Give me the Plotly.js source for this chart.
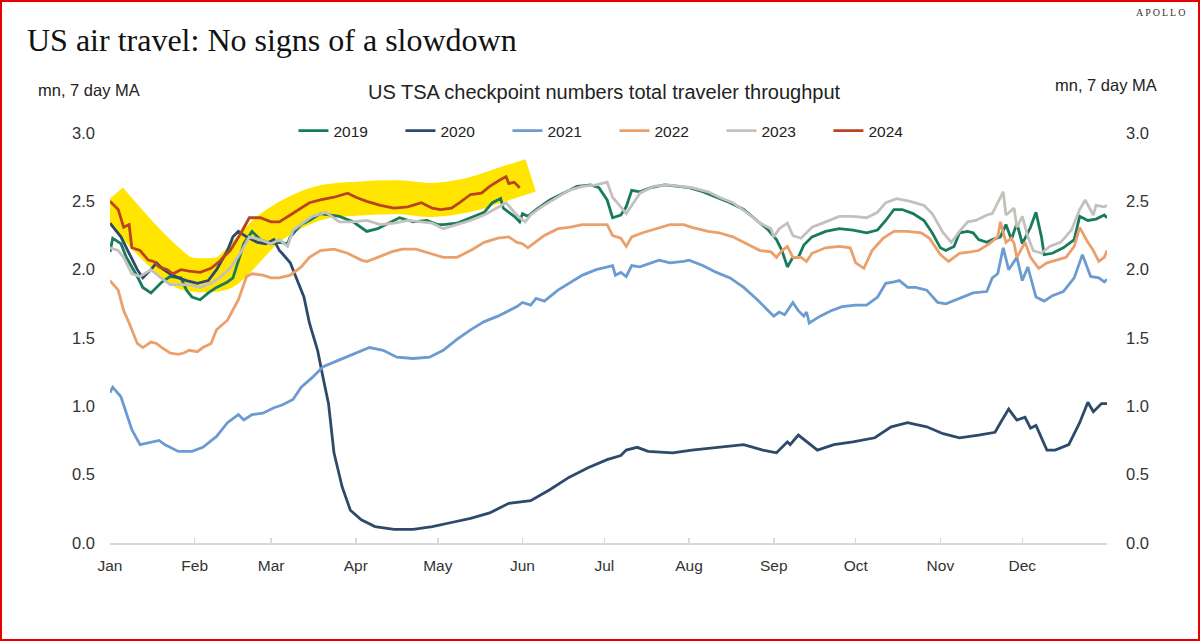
<!DOCTYPE html>
<html>
<head>
<meta charset="utf-8">
<script src="https://cdn.plot.ly/plotly-3.0.1.min.js"></script>
<style>
  html, body { margin: 0; padding: 0; background: #fff; }
  #wrap { position: relative; width: 1200px; height: 641px; }
  #chart { width: 1200px; height: 641px; }
  #frame { position: absolute; left: 0; top: 0; width: 1200px; height: 641px; box-sizing: border-box; border: 2px solid #e80000; pointer-events: none; }
</style>
</head>
<body>
<div id="wrap"><div id="chart"></div><div id="frame"></div></div>
<script>
// Day of year (0 = Jan 1) and values, mn travellers, 7 day MA
const monthTickDays = [0, 31, 59, 90, 120, 151, 181, 212, 243, 273, 304, 334, 365];
const monthTickLabels = ['Jan','Feb','Mar','Apr','May','Jun','Jul','Aug','Sep','Oct','Nov','Dec',''];
const yTicks = [0, 0.5, 1.0, 1.5, 2.0, 2.5, 3.0];

const days2019 = [0,1,4,6,10,12,15,17,19,22,26,28,30,33,36,39,43,45,47,49,52,55,59,62,65,66,70,73,77,81,84,89,94,98,101,106,111,116,120,122,127,132,137,140,143,144,146,148,150,151,153,156,161,166,171,176,179,182,184,187,189,191,194,198,203,208,212,217,222,227,232,237,241,244,246,248,250,252,254,257,262,267,272,277,281,284,287,290,294,298,301,304,306,309,311,314,316,318,321,323,326,328,330,332,334,337,339,341,342,345,349,353,355,358,361,364,365];
const vals2019 = [2.13,2.23,2.19,2.09,1.95,1.87,1.83,1.87,1.91,1.95,1.94,1.85,1.80,1.78,1.83,1.87,1.91,1.94,2.07,2.19,2.28,2.22,2.19,2.20,2.19,2.24,2.33,2.36,2.41,2.40,2.39,2.35,2.28,2.30,2.33,2.38,2.35,2.36,2.33,2.33,2.34,2.38,2.42,2.49,2.52,2.45,2.42,2.39,2.35,2.41,2.39,2.44,2.51,2.56,2.61,2.62,2.60,2.51,2.38,2.40,2.46,2.58,2.57,2.60,2.62,2.61,2.60,2.57,2.53,2.49,2.44,2.36,2.29,2.22,2.14,2.02,2.09,2.09,2.18,2.24,2.28,2.30,2.29,2.27,2.29,2.36,2.44,2.44,2.41,2.36,2.27,2.16,2.14,2.17,2.27,2.28,2.27,2.22,2.20,2.22,2.24,2.33,2.22,2.34,2.19,2.31,2.42,2.24,2.11,2.12,2.16,2.22,2.39,2.36,2.37,2.40,2.38];

const days2020 = [0,4,7,10,12,15,17,19,22,25,28,32,36,39,43,45,47,50,54,57,60,62,63,66,68,71,73,76,78,80,82,85,88,92,97,104,111,118,125,132,139,146,154,161,168,175,182,187,189,193,197,206,213,223,232,239,244,248,249,252,255,259,265,272,280,286,292,299,305,311,318,324,326,329,332,335,337,339,343,346,351,355,358,360,363,365];
const vals2020 = [2.34,2.24,2.12,2.00,1.94,2.00,2.05,2.01,1.97,1.94,1.92,1.90,1.92,2.00,2.14,2.24,2.28,2.24,2.20,2.19,2.22,2.14,2.12,2.05,1.95,1.80,1.61,1.41,1.21,1.02,0.66,0.41,0.24,0.17,0.12,0.10,0.10,0.12,0.15,0.18,0.22,0.29,0.31,0.39,0.48,0.55,0.61,0.64,0.68,0.70,0.67,0.66,0.68,0.70,0.72,0.68,0.66,0.74,0.72,0.79,0.74,0.68,0.72,0.74,0.77,0.85,0.88,0.85,0.80,0.77,0.79,0.81,0.88,0.98,0.90,0.92,0.84,0.86,0.68,0.68,0.72,0.88,1.03,0.96,1.02,1.02];

const days2021 = [0,1,4,6,8,11,13,15,18,20,25,30,34,39,43,47,49,52,56,60,63,67,70,74,78,84,90,95,100,105,111,117,122,127,132,137,142,146,149,151,154,156,159,164,168,173,178,182,184,185,187,189,191,194,198,201,205,210,212,217,222,227,232,237,241,243,245,247,250,252,254,255,256,260,264,268,273,277,281,284,287,289,292,295,299,303,306,310,312,316,321,323,325,327,329,332,334,336,339,342,345,349,353,356,359,362,364,365];
const vals2021 = [1.10,1.14,1.07,0.95,0.83,0.72,0.73,0.74,0.75,0.72,0.67,0.67,0.70,0.78,0.88,0.94,0.90,0.94,0.95,0.99,1.01,1.05,1.14,1.21,1.29,1.34,1.39,1.43,1.41,1.36,1.35,1.36,1.41,1.49,1.56,1.62,1.66,1.70,1.73,1.76,1.74,1.79,1.77,1.85,1.90,1.96,2.00,2.02,2.03,1.96,1.98,1.95,2.03,2.02,2.05,2.07,2.05,2.06,2.07,2.03,1.98,1.94,1.87,1.78,1.70,1.66,1.69,1.67,1.76,1.70,1.66,1.69,1.61,1.66,1.70,1.73,1.74,1.74,1.80,1.90,1.91,1.92,1.87,1.87,1.85,1.76,1.75,1.78,1.80,1.83,1.84,1.94,1.97,2.16,2.00,2.09,1.92,2.02,1.80,1.77,1.81,1.84,1.94,2.11,1.95,1.94,1.91,1.93];

const days2022 = [0,3,5,7,10,12,15,17,19,22,25,27,29,32,34,37,39,43,47,50,52,56,59,62,66,70,73,77,82,87,92,94,98,103,107,112,117,122,127,132,137,142,146,149,151,153,155,159,164,168,173,178,182,184,187,189,191,195,200,205,210,213,219,223,228,233,238,242,244,246,248,250,253,255,257,262,267,271,273,276,279,283,287,292,297,300,304,307,311,315,318,322,325,326,328,330,331,332,335,337,340,343,347,350,353,355,358,360,362,364,365];
const vals2022 = [1.92,1.85,1.70,1.61,1.46,1.43,1.47,1.46,1.43,1.39,1.38,1.39,1.41,1.40,1.43,1.46,1.56,1.63,1.78,1.95,1.97,1.96,1.94,1.94,1.96,2.02,2.09,2.14,2.15,2.12,2.07,2.06,2.09,2.13,2.15,2.15,2.12,2.09,2.09,2.14,2.20,2.23,2.24,2.20,2.19,2.16,2.19,2.25,2.30,2.31,2.33,2.33,2.33,2.25,2.23,2.17,2.24,2.27,2.30,2.33,2.33,2.31,2.28,2.27,2.24,2.19,2.14,2.13,2.09,2.14,2.17,2.09,2.09,2.06,2.12,2.16,2.17,2.16,2.05,2.01,2.14,2.23,2.28,2.28,2.27,2.23,2.11,2.06,2.12,2.13,2.14,2.19,2.24,2.35,2.20,2.23,2.19,2.09,2.20,2.09,2.01,2.05,2.07,2.09,2.17,2.31,2.20,2.14,2.06,2.09,2.14];

const days2023 = [0,3,5,8,11,15,18,22,26,29,33,37,40,44,48,51,55,59,62,65,67,71,74,79,84,89,94,99,104,109,113,118,122,127,132,137,142,145,148,150,152,154,158,164,168,173,178,182,184,187,189,191,194,199,204,209,213,219,223,228,233,238,242,243,245,248,250,253,255,257,262,267,272,277,281,284,288,293,298,301,305,308,311,314,317,321,323,325,327,328,331,332,334,336,338,341,344,348,352,355,357,360,361,364,365];
const vals2023 = [2.16,2.14,2.09,1.97,1.95,2.00,1.95,1.89,1.89,1.89,1.87,1.90,1.94,2.01,2.13,2.24,2.22,2.19,2.22,2.17,2.29,2.35,2.39,2.42,2.35,2.35,2.36,2.33,2.34,2.36,2.35,2.34,2.30,2.33,2.36,2.40,2.46,2.49,2.42,2.38,2.35,2.40,2.46,2.53,2.58,2.61,2.62,2.64,2.53,2.46,2.41,2.47,2.56,2.61,2.62,2.61,2.60,2.57,2.53,2.49,2.42,2.34,2.30,2.24,2.30,2.34,2.25,2.23,2.27,2.31,2.35,2.39,2.39,2.38,2.42,2.49,2.52,2.50,2.47,2.41,2.27,2.20,2.28,2.35,2.36,2.40,2.41,2.49,2.57,2.40,2.45,2.31,2.39,2.24,2.14,2.12,2.17,2.20,2.29,2.44,2.51,2.40,2.47,2.46,2.47];

const days2024 = [0,3,5,7,8,11,14,16,18,21,23,26,29,33,37,40,44,48,51,55,59,62,66,70,73,77,82,87,90,94,99,104,109,114,118,121,125,128,132,136,139,143,145,146,148,150];
const vals2024 = [2.50,2.44,2.31,2.33,2.16,2.14,2.07,2.06,2.02,2.00,1.97,2.00,1.99,1.98,2.01,2.06,2.14,2.27,2.38,2.38,2.35,2.35,2.40,2.45,2.49,2.51,2.53,2.56,2.53,2.50,2.47,2.45,2.46,2.49,2.45,2.44,2.45,2.49,2.55,2.56,2.61,2.66,2.68,2.63,2.64,2.60];

// Yellow highlighter band centre line (follows 2024)
const bandDays = [0,11,20,27,37,42,49,57,66,77,91,106,118,132,143,154];
const bandVals = [2.52,2.27,2.09,1.98,1.96,1.98,2.11,2.28,2.40,2.49,2.52,2.53,2.51,2.55,2.62,2.69];

const seriesNames = ['2019','2020','2021','2022','2023','2024'];
const seriesColors = ['#177b5c','#2d4a6b','#6b9bd0','#eba06c','#c4c1bd','#b9441f'];
const seriesDays = [days2019, days2020, days2021, days2022, days2023, days2024];
const seriesVals = [vals2019, vals2020, vals2021, vals2022, vals2023, vals2024];

const traces = [{
  x: bandDays, y: bandVals, type: 'scatter', mode: 'lines',
  line: {color: '#ffe500', width: 34, shape: 'spline', smoothing: 1},
  showlegend: false, hoverinfo: 'skip'
}];
seriesNames.forEach((n, i) => {
  traces.push({
    x: seriesDays[i], y: seriesVals[i], type: 'scatter', mode: 'lines', name: n,
    line: {color: seriesColors[i], width: 2.8}
  });
});
// invisible trace so the right axis is drawn
traces.push({x: [null], y: [null], yaxis: 'y2', type: 'scatter', mode: 'lines', showlegend: false, hoverinfo: 'skip'});

const xTickFont = {family: 'Liberation Sans, Arial, sans-serif', size: 15.5, color: '#333'};
const yTickFont = {family: 'Liberation Sans, Arial, sans-serif', size: 16.5, color: '#333'};
const layout = {
  width: 1200, height: 641,
  margin: {l: 110, r: 93, t: 133, b: 98},
  paper_bgcolor: '#fff', plot_bgcolor: '#fff',
  font: {family: 'Liberation Sans, Arial, sans-serif', color: '#222'},
  xaxis: {
    range: [0, 365], tickmode: 'array', tickvals: monthTickDays, ticktext: monthTickLabels,
    showgrid: false, zeroline: false, showline: true, linecolor: '#d9d9d9', linewidth: 2,
    ticks: 'inside', ticklen: 5, tickcolor: '#d9d9d9', tickwidth: 1.5,
    tickfont: xTickFont, ticklabelstandoff: 7
  },
  yaxis: {
    range: [0, 3], tickmode: 'array', tickvals: yTicks, tickformat: '.1f',
    showgrid: false, zeroline: false, showline: false, ticks: '',
    tickfont: yTickFont, ticklabelstandoff: 14
  },
  yaxis2: {
    range: [0, 3], overlaying: 'y', side: 'right', tickmode: 'array', tickvals: yTicks, tickformat: '.1f',
    showgrid: false, zeroline: false, showline: false, ticks: '',
    tickfont: yTickFont, ticklabelstandoff: 18
  },
  legend: {
    orientation: 'h', x: 0.184, xanchor: 'left', y: 1.005, yanchor: 'middle',
    font: {family: 'Liberation Sans, Arial, sans-serif', size: 15.5, color: '#222'},
    entrywidth: 62, entrywidthmode: 'pixels', bgcolor: 'rgba(0,0,0,0)', traceorder: 'normal'
  },
  annotations: [
    {text: 'US air travel: No signs of a slowdown', xref: 'paper', yref: 'paper', x: -0.0853, y: 1.2268,
     xanchor: 'left', yanchor: 'middle', showarrow: false,
     font: {family: 'Liberation Serif, Times New Roman, serif', size: 32, color: '#111'}},
    {text: 'A\u2009P\u2009O\u2009L\u2009L\u2009O', xref: 'paper', yref: 'paper', x: 1.0532, y: 1.2951,
     xanchor: 'center', yanchor: 'middle', showarrow: false,
     font: {family: 'Liberation Serif, Times New Roman, serif', size: 10, color: '#333'}},
    {text: 'US TSA checkpoint numbers total traveler throughput', xref: 'paper', yref: 'paper', x: 0.4955, y: 1.10,
     xanchor: 'center', yanchor: 'middle', showarrow: false,
     font: {family: 'Liberation Sans, Arial, sans-serif', size: 20, color: '#222'}},
    {text: 'mn, 7 day MA', xref: 'paper', yref: 'paper', x: -0.021, y: 1.105,
     xanchor: 'center', yanchor: 'middle', showarrow: false,
     font: {family: 'Liberation Sans, Arial, sans-serif', size: 16.5, color: '#222'}},
    {text: 'mn, 7 day MA', xref: 'paper', yref: 'paper', x: 0.999, y: 1.117,
     xanchor: 'center', yanchor: 'middle', showarrow: false,
     font: {family: 'Liberation Sans, Arial, sans-serif', size: 16.5, color: '#222'}}
  ]
};
Plotly.newPlot('chart', traces, layout, {displayModeBar: false, staticPlot: true});
</script>
</body>
</html>
